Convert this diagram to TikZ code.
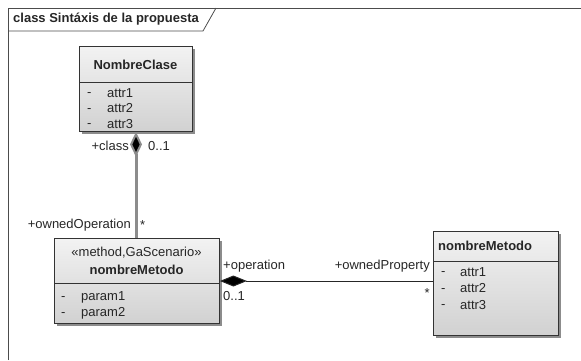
\documentclass[tikz,border=0pt]{standalone}
\usepackage{fontspec}
\setmainfont{Liberation Sans}
\usetikzlibrary{arrows.meta}
\begin{document}
\begin{tikzpicture}[x=1pt,y=-1pt,
  every node/.style={font=\fontsize{13}{15}\selectfont, inner sep=0pt},
  umlbox/.style={draw=black!80, line width=0.9pt, anchor=north west, top color=black!5, bottom color=black!18, shading angle=0},
  shadowbox/.style={fill=black!45, draw=none, anchor=north west},
  lbl/.style={text=black!85},
  dsh/.style={text=black!85, anchor=west},
  bold/.style={font=\fontsize{13}{15}\selectfont\bfseries, text=black!85}
]
\useasboundingbox (0,0) rectangle (581,360);
% frame
\draw[black!70, line width=0.8pt] (8,360) -- (8,8) -- (581,8);
\draw[black!70, line width=0.8pt] (8,31) -- (203,31) -- (216,8);
\node[bold, anchor=west] (title) at (13,19.5) {class Sintáxis de la propuesta};

% NombreClase
\node[shadowbox, minimum width=113pt, minimum height=85pt] (clsS) at (82,49) {};
\node[umlbox, minimum width=113pt, minimum height=85pt] (cls) at (79,46) {};
\draw[black!80, line width=0.9pt] (79,82) -- (192,82);
\node[bold] (clsname) at (135.5,65) {NombreClase};
\node[dsh] (c1d) at (87,95) {-};
\node[lbl, anchor=west] (c1) at (107,93) {attr1};
\node[dsh] (c2d) at (87,110.5) {-};
\node[lbl, anchor=west] (c2) at (107,108.5) {attr2};
\node[dsh] (c3d) at (87,126) {-};
\node[lbl, anchor=west] (c3) at (107,124) {attr3};

% nombreMetodo (left)
\node[shadowbox, minimum width=165pt, minimum height=85pt] (methS) at (57,241) {};
\node[umlbox, minimum width=165pt, minimum height=85pt] (meth) at (54,238) {};
\draw[black!80, line width=0.9pt] (54,283) -- (219,283);
\node[lbl] (st) at (136.5,253) {«method,GaScenario»};
\node[bold] (mname) at (136.5,269.5) {nombreMetodo};
\node[dsh] (p1d) at (61,299) {-};
\node[lbl, anchor=west] (p1) at (81,297) {param1};
\node[dsh] (p2d) at (61,315) {-};
\node[lbl, anchor=west] (p2) at (81,313) {param2};

% nombreMetodo (right)
\node[shadowbox, minimum width=125pt, minimum height=104pt] (rtS) at (436,234) {};
\node[umlbox, minimum width=125pt, minimum height=104pt] (rt) at (433,231) {};
\draw[black!80, line width=0.9pt] (433,261) -- (558,261);
\node[bold, anchor=west] (rname) at (438,246) {nombreMetodo};
\node[dsh] (r1d) at (441,274) {-};
\node[lbl, anchor=west] (r1) at (460,272) {attr1};
\node[dsh] (r2d) at (441,290.5) {-};
\node[lbl, anchor=west] (r2) at (460,288.5) {attr2};
\node[dsh] (r3d) at (441,307) {-};
\node[lbl, anchor=west] (r3) at (460,305) {attr3};

% connector class - method (gray, composite)
\draw[black!45, line width=3pt, -{Diamond[length=25pt,width=12pt,fill=black,line width=2pt]}]
  (meth.north -| 136,0) -- (cls.south -| 136,0);
\node[lbl, anchor=east] (lclass) at (129,146) {+class};
\node[lbl, anchor=west] (lc01) at (148,146) {0..1};
\node[lbl, anchor=east] (lown) at (131,225) {+ownedOperation};
\node[lbl, anchor=west] (lstar1) at (140,225) {*};

% connector method - right (black composite)
\draw[black!85, line width=1pt, -{Diamond[length=27pt,width=11pt,fill=black]}]
  (rt.west |- 0,281) -- (meth.east |- 0,281);
\node[lbl, anchor=west] (lop) at (223,266) {+operation};
\node[lbl, anchor=west] (lo01) at (223,296) {0..1};
\node[lbl, anchor=east] (lprop) at (430,266) {+ownedProperty};
\node[lbl, anchor=east] (lstar2) at (430,293) {*};
\end{tikzpicture}
\end{document}
